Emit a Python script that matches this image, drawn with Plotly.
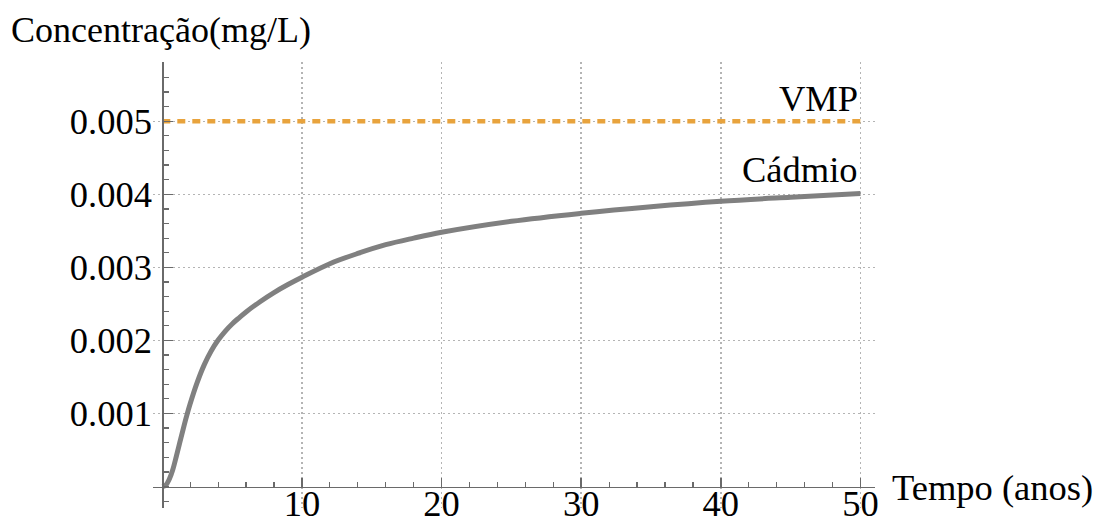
import plotly.graph_objects as go

# ---- data ----
time_years = [0, 0.25, 0.5, 0.75, 1.0, 1.25, 1.5, 1.75, 2.0, 2.5, 3.0, 3.5, 4.0, 4.5, 5.0,
              5.5, 6.0, 7.0, 8.0, 9.0, 10.0, 12.0, 14.0, 16.0, 18.0, 20.0, 25.0, 30.0,
              35.0, 40.0, 45.0, 50.0]
cadmio = [0, 0.00002, 0.0001, 0.00023, 0.00041, 0.0006, 0.00079, 0.00097, 0.001135, 0.001425,
          0.001665, 0.001855, 0.002005, 0.002125, 0.002225, 0.00231, 0.00239, 0.00253,
          0.002655, 0.002765, 0.002865, 0.00305, 0.00319, 0.00331, 0.0034, 0.00348, 0.00363,
          0.00374, 0.00383, 0.003905, 0.00396, 0.00401]
vmp_x = [0, 50]
vmp_y = [0.005, 0.005]

x_ticks = [10, 20, 30, 40, 50]
x_labels = ["10", "20", "30", "40", "50"]
y_ticks = [0.001, 0.002, 0.003, 0.004, 0.005]
y_labels = ["0.001", "0.002", "0.003", "0.004", "0.005"]

x_range = [-0.666, 51.04]
y_range = [-0.000294, 0.005811]

FONT = "Liberation Serif, Times New Roman, serif"
FS = 36.5
AXIS_GRAY = "#6a6a6a"
GRID = "#b4b4b4"

fig = go.Figure()
fig.add_trace(go.Scatter(
    x=vmp_x, y=vmp_y, mode="lines",
    line=dict(color="#E8A33D", width=4.5, dash="8px,7px"),
    hoverinfo="skip", showlegend=False))
fig.add_trace(go.Scatter(
    x=time_years, y=cadmio, mode="lines",
    line=dict(color="#808080", width=5, shape="spline", smoothing=1.0),
    showlegend=False))

x_pos = (0 - y_range[0]) / (y_range[1] - y_range[0])
y_pos = (0 - x_range[0]) / (x_range[1] - x_range[0])

common = dict(
    showline=True, linecolor=AXIS_GRAY, linewidth=1.5,
    tickmode="array",
    ticks="inside", ticklen=9, tickwidth=1.5, tickcolor=AXIS_GRAY,
    showgrid=True, gridcolor=GRID, griddash="2px,3px", gridwidth=1.5,
    zeroline=False, automargin=False,
    tickfont=dict(family=FONT, size=FS, color="black"),
)

fig.update_xaxes(
    range=x_range, anchor="free", position=x_pos,
    tickvals=x_ticks, ticktext=x_labels, ticklabelstandoff=-16,
    minor=dict(dtick=2, tick0=0, ticks="inside", ticklen=5, tickwidth=1.2,
               tickcolor=AXIS_GRAY, showgrid=False),
    **common,
)
fig.update_yaxes(
    range=y_range, anchor="free", position=y_pos,
    tickvals=y_ticks, ticktext=y_labels, ticklabelstandoff=3,
    minor=dict(dtick=0.0002, tick0=0, ticks="inside", ticklen=5, tickwidth=1.2,
               tickcolor=AXIS_GRAY, showgrid=False),
    **common,
)

annotations = [
    dict(text="Concentração(mg/L)", xref="paper", yref="paper",
         x=-0.1990, y=1.071, xanchor="left", yanchor="middle", showarrow=False,
         font=dict(family=FONT, size=36, color="black")),
    dict(text="Tempo (anos)", xref="paper", yref="paper",
         x=1.0207, y=0.047, xanchor="left", yanchor="middle", showarrow=False,
         font=dict(family=FONT, size=FS, color="black")),
    dict(text="VMP", xref="x", yref="y", x=50, y=0.005,
         xanchor="right", yanchor="bottom", showarrow=False, yshift=0,
         font=dict(family=FONT, size=FS, color="black")),
    dict(text="Cádmio", xref="x", yref="y", x=50, y=0.00401,
         xanchor="right", yanchor="bottom", showarrow=False, yshift=2,
         font=dict(family=FONT, size=FS, color="black")),
]

fig.update_layout(
    width=1094, height=521,
    margin=dict(l=152.7, r=219, t=61.7, b=13, pad=0),
    paper_bgcolor="white", plot_bgcolor="white",
    annotations=annotations,
    hovermode=False,
)

fig.write_html("out.html", config={"displayModeBar": False, "staticPlot": True},
               post_script="document.body.style.margin='0px';")
